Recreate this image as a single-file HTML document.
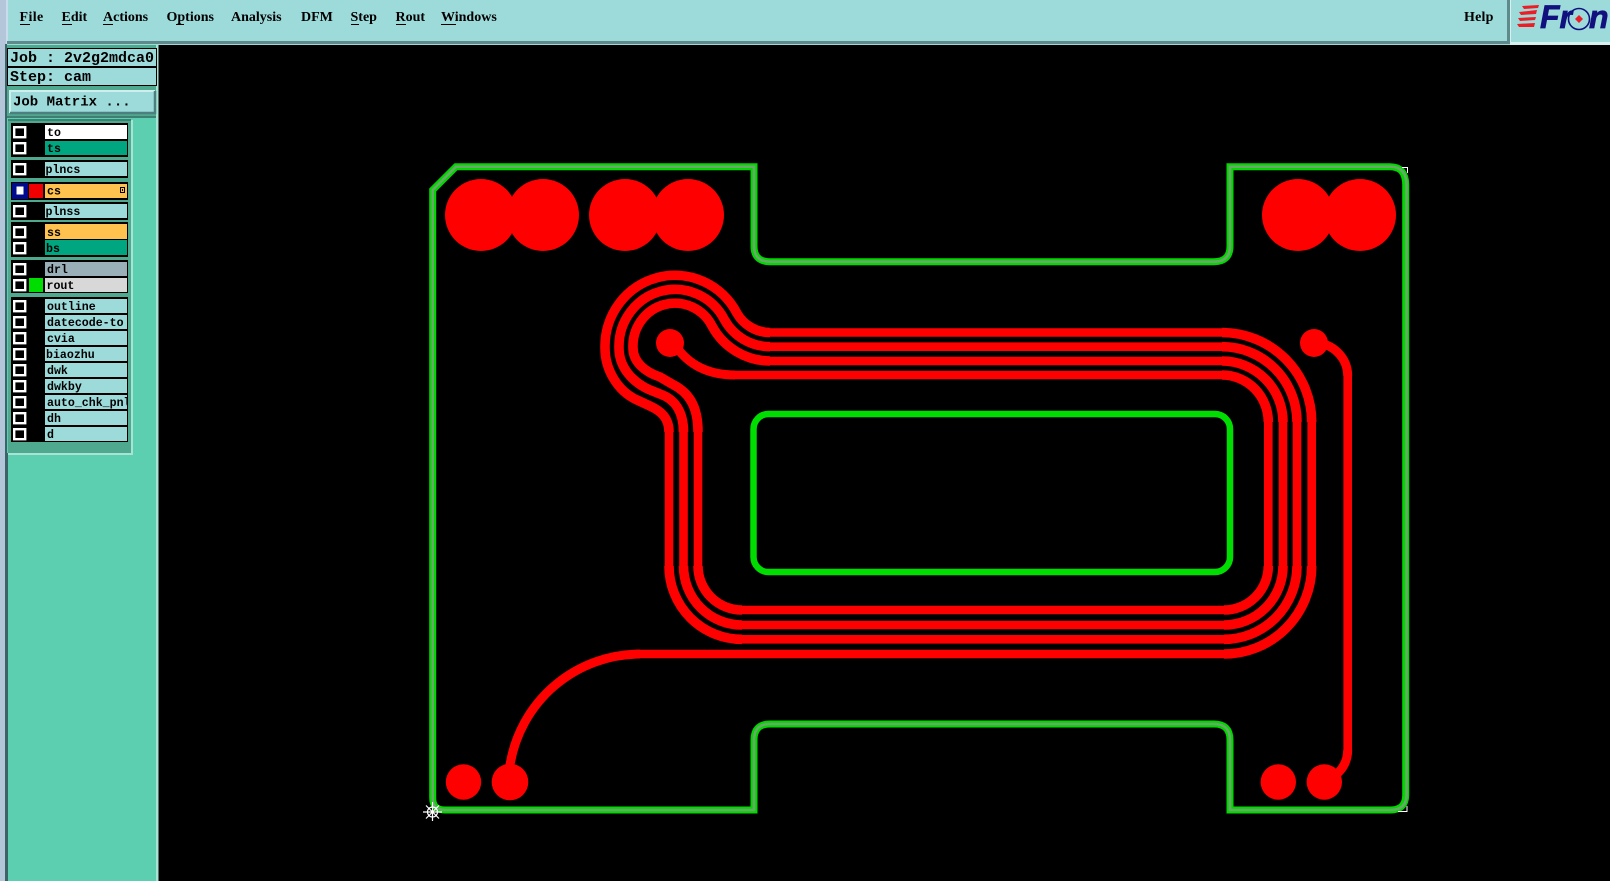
<!DOCTYPE html>
<html>
<head>
<meta charset="utf-8">
<style>
html,body{margin:0;padding:0;background:#000;width:1610px;height:881px;overflow:hidden}
svg{display:block}
.m{font:bold 14px "Liberation Serif",serif;fill:#000}
.l{font:bold 11.6px "Liberation Mono",monospace;fill:#000}
.j{font:bold 15px "Liberation Mono",monospace;fill:#000}
.t{fill:none;stroke:#f00;stroke-width:8.6}
.a{fill:none;stroke:#f00;stroke-width:9.6}
</style>
</head>
<body>
<svg xmlns="http://www.w3.org/2000/svg" width="1610" height="881" viewBox="0 0 1610 881">
<defs><clipPath id="c"><rect x="45" y="395" width="82" height="14"/></clipPath></defs>
<rect width="1610" height="881" fill="#000"/>

<!-- menu bar -->
<rect x="0" y="0" width="1610" height="45" fill="#9ddada"/>
<rect x="0" y="0" width="6" height="881" fill="#b4c6da"/>
<rect x="6" y="0" width="2" height="44" fill="#c8dcec"/>
<rect x="7" y="41" width="1503" height="3" fill="#5f8a8c"/>
<rect x="1507" y="0" width="3" height="44" fill="#5f8a8c"/>
<rect x="1511" y="42" width="99" height="3" fill="#d6f0f0"/>
<rect x="1510" y="0" width="1" height="45" fill="#d6f0f0"/>

<text class="m" x="19.5" y="21" style="letter-spacing:.4px">File</text>
<text class="m" x="61.5" y="21">Edit</text>
<text class="m" x="103" y="21">Actions</text>
<text class="m" x="166.5" y="21">Options</text>
<text class="m" x="231" y="21">Analysis</text>
<text class="m" x="301" y="21">DFM</text>
<text class="m" x="350.5" y="21">Step</text>
<text class="m" x="395.5" y="21">Rout</text>
<text class="m" x="441" y="21">Windows</text>
<text class="m" x="1464" y="21" style="letter-spacing:.2px">Help</text>
<g fill="#000">
<rect x="20" y="24" width="10" height="1"/>
<rect x="62" y="24" width="10" height="1"/>
<rect x="103" y="24" width="10" height="1"/>
<rect x="176" y="24" width="8" height="1"/>
<rect x="351" y="24" width="8" height="1"/>
<rect x="396" y="24" width="10" height="1"/>
<rect x="441" y="24" width="15" height="1"/>
</g>

<!-- logo -->
<g fill="#ee1c25">
<polygon points="1522,6 1539,5 1538,8 1524,9"/>
<polygon points="1519,12 1537,10 1536,14 1521,15"/>
<polygon points="1518,18 1536,17 1535,20 1520,21"/>
<polygon points="1517,24 1535,23 1534,27 1519,27"/>
</g>
<text x="1540" y="28" font-family="Liberation Sans,sans-serif" font-size="32" font-weight="bold" font-style="italic" fill="#10107e" stroke="#10107e" stroke-width=".7">Fr</text>
<circle cx="1579" cy="19" r="10.5" fill="none" stroke="#10107e" stroke-width="1.6"/>
<polygon points="1579,15 1583,19 1579,23 1575,19" fill="#ee1c25"/>
<text x="1589" y="28" font-family="Liberation Sans,sans-serif" font-size="32" font-weight="bold" font-style="italic" fill="#10107e" stroke="#10107e" stroke-width=".7">n</text>

<!-- left panel -->
<rect x="5" y="44" width="2" height="837" fill="#3c6468"/>
<rect x="7" y="45" width="151" height="836" fill="#5ccfb0"/>
<rect x="7" y="45" width="151" height="71" fill="#4fa98e"/>
<rect x="7" y="116" width="151" height="2" fill="#3d7f70"/>
<rect x="156" y="45" width="2.5" height="836" fill="#a8e4d6"/>

<rect x="7.5" y="48.5" width="149" height="18" fill="#9ddada" stroke="#000"/>
<text class="j" x="10" y="62">Job : 2v2g2mdca0</text>
<rect x="7.5" y="67.5" width="149" height="18" fill="#9ddada" stroke="#000"/>
<text class="j" x="10" y="81">Step: cam</text>

<rect x="10" y="91" width="145" height="22" fill="#9ddada"/>
<path d="M10 113V91H155" fill="none" stroke="#d0eeee" stroke-width="2"/>
<path d="M10 113H155V91" fill="none" stroke="#4d7f80" stroke-width="2.5"/>
<text class="j" x="13" y="105.5" style="font-size:14px">Job Matrix ...</text>

<!-- layer list box -->
<rect x="8" y="120" width="123" height="333" fill="#4fa98e"/>
<path d="M8 454H132V120" fill="none" stroke="#a8e4d6" stroke-width="2"/>
<path d="M8 120H131" fill="none" stroke="#3d7f70" stroke-width="2"/>
<rect x="5" y="453" width="3" height="428" fill="#3c6468"/>

<g fill="#000">
<rect x="11" y="123" width="117" height="34"/>
<rect x="11" y="160" width="117" height="18"/>
<rect x="11" y="182" width="117" height="18"/>
<rect x="11" y="202" width="117" height="18"/>
<rect x="11" y="222" width="117" height="35"/>
<rect x="11" y="260" width="117" height="33"/>
<rect x="11" y="297" width="117" height="145"/>
</g>

<!-- name bars -->
<rect x="45" y="125" width="82" height="14" fill="#fff"/>
<rect x="45" y="141" width="82" height="14" fill="#00a680"/>
<rect x="45" y="162" width="82" height="14" fill="#9ddada"/>
<rect x="45" y="184" width="82" height="14" fill="#ffc24f"/>
<rect x="45" y="204" width="82" height="14" fill="#9ddada"/>
<rect x="45" y="224" width="82" height="15" fill="#ffc24f"/>
<rect x="45" y="240" width="82" height="15" fill="#00a680"/>
<rect x="45" y="262" width="82" height="14" fill="#9ab0b8"/>
<rect x="45" y="278" width="82" height="14" fill="#d8d8d8"/>
<g fill="#9ddada">
<rect x="45" y="299" width="82" height="14"/>
<rect x="45" y="315" width="82" height="14"/>
<rect x="45" y="331" width="82" height="14"/>
<rect x="45" y="347" width="82" height="14"/>
<rect x="45" y="363" width="82" height="14"/>
<rect x="45" y="379" width="82" height="14"/>
<rect x="45" y="395" width="82" height="14"/>
<rect x="45" y="411" width="82" height="14"/>
<rect x="45" y="427" width="82" height="14"/>
</g>

<!-- checkboxes -->
<rect x="12" y="183" width="16" height="16" fill="#000a8c"/>
<g fill="none" stroke="#fff" stroke-width="2.4">
<rect x="14.2" y="127.2" width="11" height="10"/>
<rect x="14.2" y="143.2" width="11" height="10"/>
<rect x="14.2" y="164.2" width="11" height="10"/>
<rect x="14.2" y="206.2" width="11" height="10"/>
<rect x="14.2" y="227.2" width="11" height="10"/>
<rect x="14.2" y="243.2" width="11" height="10"/>
<rect x="14.2" y="264.2" width="11" height="10"/>
<rect x="14.2" y="280.2" width="11" height="10"/>
<rect x="14.2" y="301.2" width="11" height="10"/>
<rect x="14.2" y="317.2" width="11" height="10"/>
<rect x="14.2" y="333.2" width="11" height="10"/>
<rect x="14.2" y="349.2" width="11" height="10"/>
<rect x="14.2" y="365.2" width="11" height="10"/>
<rect x="14.2" y="381.2" width="11" height="10"/>
<rect x="14.2" y="397.2" width="11" height="10"/>
<rect x="14.2" y="413.2" width="11" height="10"/>
<rect x="14.2" y="429.2" width="11" height="10"/>
</g>
<rect x="16.5" y="186.5" width="7" height="8" fill="#fff"/>

<!-- swatches -->
<rect x="29" y="184" width="14" height="14" fill="#f00000"/>
<rect x="29" y="278" width="14" height="14" fill="#00dd00"/>

<!-- icon on cs -->
<rect x="120.5" y="187.5" width="4" height="5" fill="none" stroke="#000"/>
<rect x="122" y="189" width="1" height="2" fill="#000"/>

<!-- names -->
<text class="l" x="47" y="136">to</text>
<text class="l" x="47" y="152">ts</text>
<text class="l" x="45.5" y="173">plncs</text>
<text class="l" x="47" y="194.5">cs</text>
<text class="l" x="45.5" y="215">plnss</text>
<text class="l" x="47" y="236">ss</text>
<text class="l" x="46" y="252">bs</text>
<text class="l" x="47" y="273">drl</text>
<text class="l" x="46.5" y="289">rout</text>
<text class="l" x="47" y="310">outline</text>
<text class="l" x="47" y="326">datecode-to</text>
<text class="l" x="47" y="342">cvia</text>
<text class="l" x="46" y="358">biaozhu</text>
<text class="l" x="47" y="374">dwk</text>
<text class="l" x="47" y="390">dwkby</text>
<text class="l" x="47" y="406" clip-path="url(#c)">auto_chk_pnl</text>
<text class="l" x="47" y="422">dh</text>
<text class="l" x="47" y="438">d</text>

<!-- canvas: board outline -->
<path d="M432.7 190 L456 166.7 H754 V246 Q754 261.7 770 261.7 H1214 Q1230 261.7 1230 246 V166.7 H1390 Q1405.7 166.7 1405.7 185 V795 Q1405.7 810 1390 810 H1230 V740 Q1230 724 1214 724 H770 Q754 724 754 740 V810 H445 Q432.7 810 432.7 798 Z" fill="none" stroke="#00d800" stroke-width="7"/>
<path d="M432.7 190 L456 166.7 H754 V246 Q754 261.7 770 261.7 H1214 Q1230 261.7 1230 246 V166.7 H1390 Q1406.5 166.7 1406.5 185 V795 Q1406.5 810 1390 810 H1230 V740 Q1230 724 1214 724 H770 Q754 724 754 740 V810 H445 Q432.7 810 432.7 798 Z" fill="none" stroke="#6aa86a" stroke-width="2.6"/>

<!-- inner cut -->
<rect x="753.5" y="414" width="476.5" height="158" rx="15" ry="15" fill="none" stroke="#00dd00" stroke-width="6.5"/>

<!-- pads -->
<g fill="#f00">
<circle cx="481" cy="215" r="36"/>
<circle cx="543" cy="215" r="36"/>
<circle cx="625" cy="215" r="36"/>
<circle cx="688" cy="215" r="36"/>
<circle cx="1298" cy="215" r="36"/>
<circle cx="1360" cy="215" r="36"/>
<circle cx="463.5" cy="782" r="17.7"/>
<circle cx="510" cy="782" r="18.3"/>
<circle cx="1278.3" cy="782" r="17.7"/>
<circle cx="1324.3" cy="782" r="17.7"/>
<circle cx="670" cy="343" r="14"/>
<circle cx="1314" cy="343" r="14"/>
</g>

<!-- trace straights -->
<path class="t" d="M770 332.5H1222M770 346.7H1222M770 361H1222M735 375H1222"/>
<path class="t" d="M1311.7 422V566M1297 422V566M1283 422V566M1268.3 422V566"/>
<path class="t" d="M1224 654H640M1224 639.3H742M1224 625H742M1224 610H742"/>
<path class="t" d="M669 430V566M683.5 430V566M698 430V566"/>
<path class="t" d="M1347.7 376V750"/>

<!-- trace arcs -->
<path class="a" d="M669 432 C669 418 661 411 650 406 L636 399.5 C618 391 605 370 605 348 A70 71 0 0 1 736.9 313.2 A38 38 0 0 0 770 332.5"/>
<path class="a" d="M683.5 432 C683.5 412 675 399 660 394 L650 390 C632 382 619 367 619 348 A56 57 0 0 1 724.6 320 A52.3 52.3 0 0 0 770 346.7"/>
<path class="a" d="M698 432 C698 405 688 392 672 384 L660 377 C645 372 633 362 633 348 A42 43 0 0 1 712.5 326.9 A66.5 66.5 0 0 0 770 361"/>
<path class="a" style="stroke-width:9" d="M675 345 Q695 375 735 375"/>
<path class="a" d="M1222 332.5A90 89.5 0 0 1 1311.7 422M1222 346.7A75 75.3 0 0 1 1297 422M1222 361A61 61 0 0 1 1283 422M1222 375A46.3 47 0 0 1 1268.3 422"/>
<path class="a" d="M1311.7 566A87.7 88 0 0 1 1224 654M1297 566A73 73.3 0 0 1 1224 639.3M1283 566A59 59 0 0 1 1224 625M1268.3 566A44.3 44 0 0 1 1224 610"/>
<path class="a" d="M669 566A73 73.3 0 0 0 742 639.3M683.5 566A58.5 59 0 0 0 742 625M698 566A44 44 0 0 0 742 610"/>
<path class="a" style="stroke-width:9" d="M640 654A132 132 0 0 0 510 765V782"/>
<path class="a" style="stroke-width:9" d="M1315 343A33 33 0 0 1 1347.7 376"/>
<path class="a" style="stroke-width:9" d="M1347.7 750A33 33 0 0 1 1338 773L1324 782"/>

<!-- corner markers -->
<path d="M1402 167.5H1407.5V173" fill="none" stroke="#fff" stroke-width="1"/>
<path d="M1407 806V811.5H1398" fill="none" stroke="#fff" stroke-width="1"/>
<g stroke="#fff" stroke-width="1.2" fill="none">
<path d="M423 812H442M432.5 802V821M426 805.5L439 818.5M439 805.5L426 818.5"/>
<circle cx="432.5" cy="812" r="5"/>
</g>
</svg>
</body>
</html>
